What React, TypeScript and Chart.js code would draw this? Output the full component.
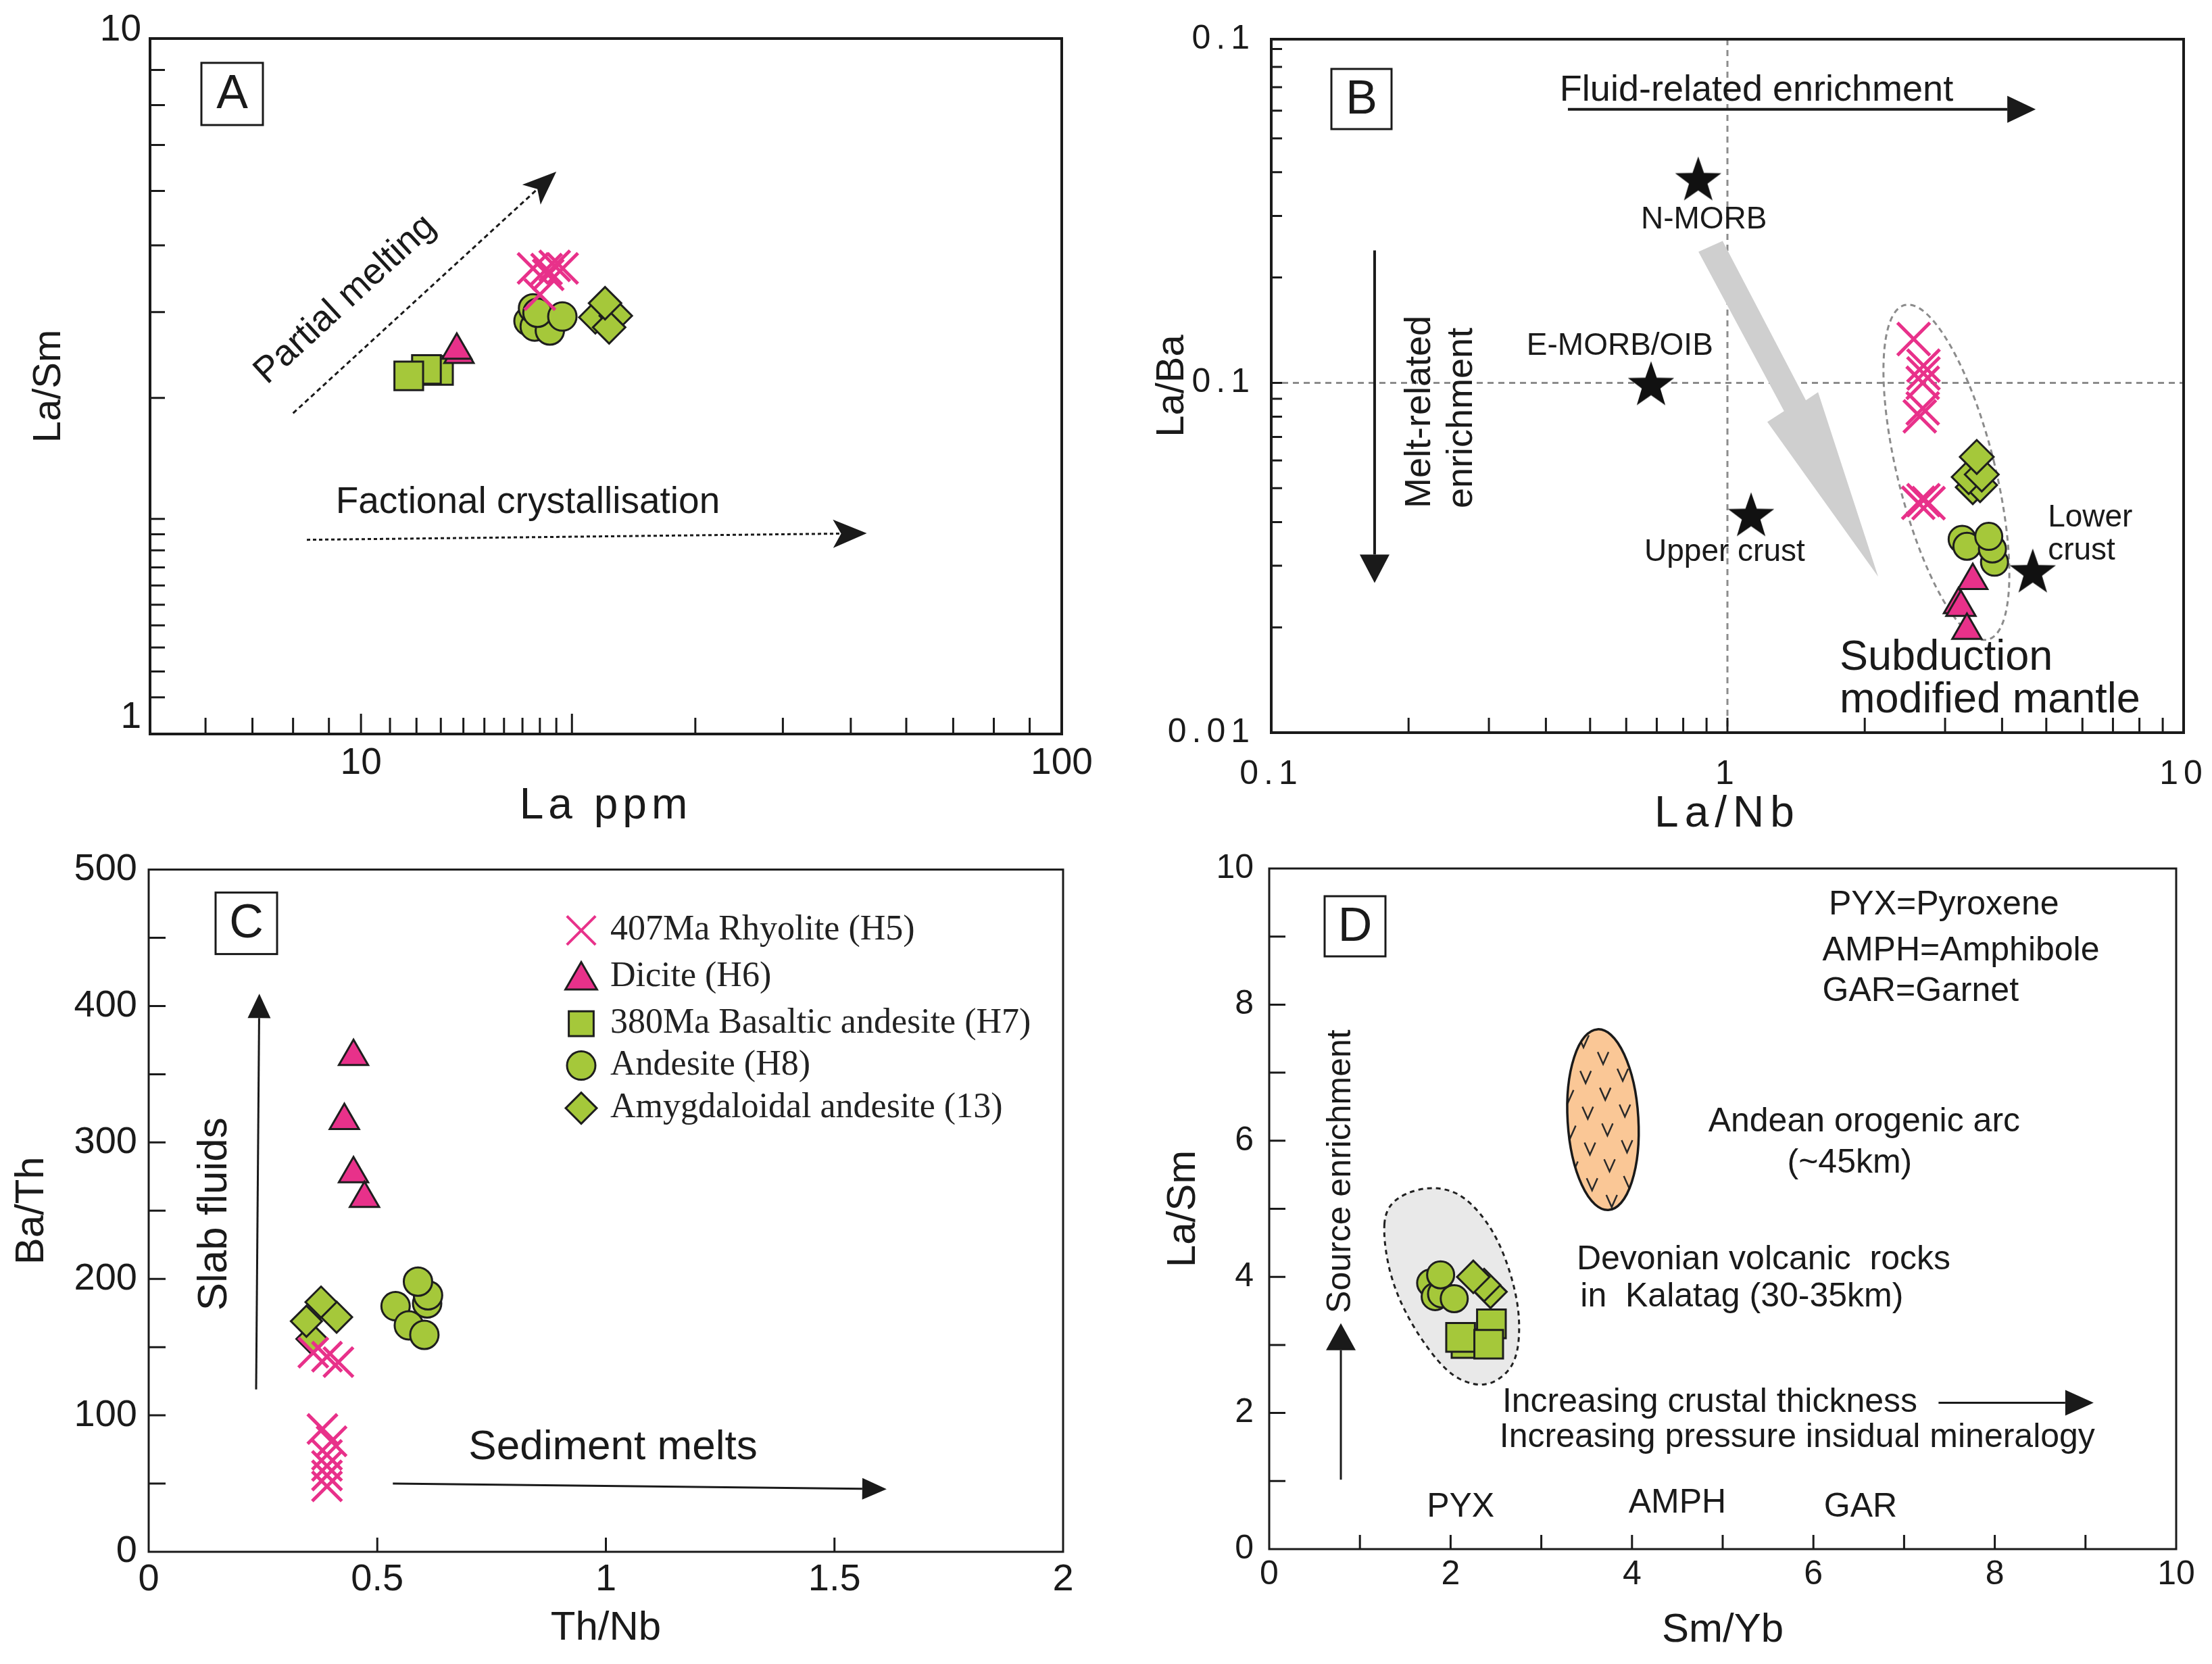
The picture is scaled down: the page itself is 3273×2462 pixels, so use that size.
import React, { useEffect, useRef } from 'react';
import { Chart, registerables } from 'chart.js';

Chart.register(...registerables);

type Pt = [number, number];

// ---------------- Panel A : La ppm vs La/Sm ----------------
const A_RHYOLITE: Pt[] = [[17.6, 4.63], [18.4, 4.62], [19.4, 4.63], [18.5, 4.53], [18.9, 4.67], [18.0, 4.24]];
const A_DICITE: Pt[] = [[13.8, 3.47], [13.7, 3.52]];
const A_BASALTIC: Pt[] = [[12.9, 3.29], [12.4, 3.3], [11.7, 3.23]];
const A_ANDESITE: Pt[] = [[17.34, 3.88], [17.7, 3.81], [18.6, 3.76], [17.6, 4.05], [17.86, 3.99], [19.38, 3.94]];
const A_AMYGDALOIDAL: Pt[] = [[21.6, 3.93], [23.1, 3.95], [22.6, 3.8], [22.3, 4.12]];

// ---------------- Panel B : La/Nb vs La/Ba ----------------
const B_RHYOLITE: Pt[] = [[2.56, 0.1334], [2.69, 0.112], [2.69, 0.1064], [2.68, 0.1], [2.68, 0.0845], [2.64, 0.0802], [2.69, 0.0462], [2.76, 0.0453], [2.62, 0.0454]];
const B_DICITE: Pt[] = [[3.45, 0.0272], [3.21, 0.0232], [3.25, 0.0228], [3.35, 0.0196]];
const B_ANDESITE: Pt[] = [[3.27, 0.0357], [3.35, 0.0341], [3.85, 0.0307], [3.81, 0.0335], [3.74, 0.0364]];
const B_AMYGDALOIDAL: Pt[] = [[3.45, 0.0503], [3.58, 0.051], [3.38, 0.0538], [3.61, 0.0547], [3.52, 0.0614]];
const B_REFERENCE: Pt[] = [[0.863, 0.383], [0.68, 0.0995], [1.127, 0.042], [4.67, 0.029]];
const B_REFERENCE_NAMES = ['N-MORB', 'E-MORB/OIB', 'Upper crust', 'Lower crust'];
const B_TREND_ARROW: Pt[] = [[0.864, 0.237], [0.976, 0.2545], [1.486, 0.0891], [1.58, 0.094], [2.14, 0.0279], [1.223, 0.0773], [1.331, 0.083]];

// ---------------- Panel C : Th/Nb vs Ba/Th ----------------
const C_RHYOLITE: Pt[] = [[0.36, 146], [0.39, 143], [0.415, 139], [0.38, 90], [0.4, 81], [0.39, 71], [0.39, 63], [0.39, 56], [0.39, 48]];
const C_DICITE: Pt[] = [[0.448, 363], [0.428, 316], [0.448, 277], [0.472, 259]];
const C_ANDESITE: Pt[] = [[0.54, 180], [0.569, 166], [0.603, 159], [0.609, 182], [0.611, 188], [0.589, 198]];
const C_AMYGDALOIDAL: Pt[] = [[0.357, 156], [0.345, 169], [0.411, 172], [0.377, 183]];

// ---------------- Panel D : Sm/Yb vs La/Sm ----------------
const D_BASALTIC: Pt[] = [[2.17, 3.02], [2.11, 3.11], [2.45, 3.31], [2.42, 3.01]];
const D_ANDESITE: Pt[] = [[1.78, 3.91], [1.83, 3.71], [1.9, 3.75], [2.04, 3.68], [1.89, 4.03]];
const D_AMYGDALOIDAL: Pt[] = [[2.44, 3.78], [2.37, 3.88], [2.25, 4.0]];
const D_KALATAG_FIELD: Pt[] = [[1.28, 5.0], [1.5, 5.24], [1.83, 5.33], [2.15, 5.2], [2.47, 4.7], [2.67, 4.05], [2.77, 3.39], [2.73, 2.75], [2.5, 2.44], [2.25, 2.4], [1.95, 2.6], [1.6, 3.22], [1.36, 3.88], [1.26, 4.54]];
const D_ANDEAN_FIELD = { x: 3.68, y: 6.31, rx: 0.39, ry: 1.33 };

// ---------------- Tick values and labels ----------------
const A_X_TICKS = [6, 7, 8, 9, 10, 11, 12, 13, 14, 15, 16, 17, 18, 19, 20, 30, 40, 50, 60, 70, 80, 90, 100];
const A_X_LABELS: [number, string][] = [[10, '10'], [100, '100']];
const A_Y_TICKS = [1, 1.1, 1.2, 1.3, 1.4, 1.5, 1.6, 1.7, 1.8, 1.9, 2, 3, 4, 5, 6, 7, 8, 9, 10];
const A_Y_LABELS: [number, string][] = [[1, '1'], [10, '10']];
const B_X_TICKS = [0.1, 0.2, 0.3, 0.4, 0.5, 0.6, 0.7, 0.8, 0.9, 1, 2, 3, 4, 5, 6, 7, 8, 9, 10];
const B_X_LABELS: [number, string][] = [[0.1, '0.1'], [1, '1'], [10, '10']];
const B_Y_TICKS = [0.01, 0.02, 0.03, 0.04, 0.05, 0.06, 0.07, 0.08, 0.09, 0.1, 0.2, 0.3, 0.4, 0.5, 0.6, 0.7, 0.8, 0.9, 0.96];
const B_Y_LABELS: [number, string][] = [[0.01, '0.01'], [0.1, '0.1'], [0.96, '0.1']];
const C_X_TICKS = [0, 0.5, 1, 1.5, 2];
const C_X_LABELS: [number, string][] = [[0, '0'], [0.5, '0.5'], [1, '1'], [1.5, '1.5'], [2, '2']];
const C_Y_TICKS = [0, 50, 100, 150, 200, 250, 300, 350, 400, 450, 500];
const C_Y_LABELS: [number, string][] = [[0, '0'], [100, '100'], [200, '200'], [300, '300'], [400, '400'], [500, '500']];
const D_X_TICKS = [0, 1, 2, 3, 4, 5, 6, 7, 8, 9, 10];
const D_X_LABELS: [number, string][] = [[0, '0'], [2, '2'], [4, '4'], [6, '6'], [8, '8'], [10, '10']];
const D_Y_TICKS = [0, 1, 2, 3, 4, 5, 6, 7, 8, 9, 10];
const D_Y_LABELS: [number, string][] = [[0, '0'], [2, '2'], [4, '4'], [6, '6'], [8, '8'], [10, '10']];

// ---------------- Styles ----------------
const PINK = '#E8318A';
const GREEN = '#A5C83A';
const EDGE = '#1e1e1e';
const INK = '#1a1a1a';
const SANS = "'Liberation Sans', Arial, Helvetica, sans-serif";
const SERIF = "'Liberation Serif', 'Times New Roman', serif";

const SERIES_STYLE: Record<string, any> = {
  rhyolite: { name: '407Ma Rhyolite (H5)', pointStyle: 'crossRot', fill: PINK, stroke: PINK, lw: 5 },
  dicite: { name: 'Dicite (H6)', pointStyle: 'triangle', fill: PINK, stroke: EDGE, lw: 3 },
  basaltic: { name: '380Ma Basaltic andesite (H7)', pointStyle: 'rect', fill: GREEN, stroke: EDGE, lw: 3 },
  andesite: { name: 'Andesite (H8)', pointStyle: 'circle', fill: GREEN, stroke: EDGE, lw: 3 },
  amygdaloidal: { name: 'Amygdaloidal andesite (13)', pointStyle: 'rectRot', fill: GREEN, stroke: EDGE, lw: 3 },
};

function series(key: string, pts: Pt[], r: number) {
  const s = SERIES_STYLE[key];
  return {
    label: s.name,
    data: pts.map(([x, y]) => ({ x, y })),
    showLine: false,
    pointStyle: s.pointStyle,
    pointRadius: r,
    pointHoverRadius: r,
    pointBackgroundColor: s.fill,
    pointBorderColor: s.stroke,
    pointBorderWidth: s.lw,
    pointHoverBorderWidth: s.lw,
    backgroundColor: s.fill,
    borderColor: s.stroke,
  };
}

function starImage(R: number) {
  const c = document.createElement('canvas');
  const s = Math.ceil(R * 2 + 4);
  c.width = s;
  c.height = s;
  const g = c.getContext('2d')!;
  g.fillStyle = '#111';
  g.beginPath();
  for (let i = 0; i < 10; i++) {
    const r = i % 2 === 0 ? R : R * 0.4;
    const a = -Math.PI / 2 + (i * Math.PI) / 5;
    const px = s / 2 + r * Math.cos(a);
    const py = s / 2 + r * Math.sin(a) + R * 0.08;
    if (i === 0) g.moveTo(px, py);
    else g.lineTo(px, py);
  }
  g.closePath();
  g.fill();
  return c;
}

// ---------------- Drawing helpers ----------------
function txt(ctx: CanvasRenderingContext2D, s: string, x: number, y: number, o: any = {}) {
  ctx.save();
  ctx.letterSpacing = '0px';
  ctx.translate(x, y);
  if (o.rot) ctx.rotate(o.rot);
  ctx.font = `${o.size || 50}px ${o.family || SANS}`;
  ctx.fillStyle = o.color || INK;
  ctx.textAlign = o.align || 'center';
  ctx.textBaseline = o.baseline || 'middle';
  ctx.fillText(s, 0, 0);
  ctx.restore();
}

function arrow(ctx: CanvasRenderingContext2D, x1: number, y1: number, x2: number, y2: number, o: any) {
  const a = Math.atan2(y2 - y1, x2 - x1);
  const ca = Math.cos(a), sa = Math.sin(a);
  const bx = x2 - o.head * ca, by = y2 - o.head * sa;
  const notch = o.notch || 0;
  ctx.save();
  ctx.strokeStyle = o.color || INK;
  ctx.lineWidth = o.w || 3;
  ctx.setLineDash(o.dash || []);
  ctx.beginPath();
  ctx.moveTo(x1, y1);
  ctx.lineTo(bx + notch * ca, by + notch * sa);
  ctx.stroke();
  ctx.setLineDash([]);
  ctx.fillStyle = o.color || INK;
  ctx.beginPath();
  ctx.moveTo(x2, y2);
  ctx.lineTo(bx + (o.headW / 2) * sa, by - (o.headW / 2) * ca);
  ctx.lineTo(bx + notch * ca, by + notch * sa);
  ctx.lineTo(bx - (o.headW / 2) * sa, by + (o.headW / 2) * ca);
  ctx.closePath();
  ctx.fill();
  ctx.restore();
}

function drawMarker(ctx: CanvasRenderingContext2D, style: string, x: number, y: number, r: number, fill: string, stroke: string, lw: number) {
  ctx.save();
  ctx.fillStyle = fill;
  ctx.strokeStyle = stroke;
  ctx.lineWidth = lw;
  ctx.beginPath();
  if (style === 'circle') {
    ctx.arc(x, y, r, 0, Math.PI * 2);
  } else if (style === 'triangle') {
    for (let i = 0; i < 3; i++) {
      const a = (i * 2 * Math.PI) / 3;
      const px = x + Math.sin(a) * r, py = y - Math.cos(a) * r;
      if (i === 0) ctx.moveTo(px, py);
      else ctx.lineTo(px, py);
    }
    ctx.closePath();
  } else if (style === 'rect') {
    const s = Math.SQRT1_2 * r;
    ctx.rect(x - s, y - s, 2 * s, 2 * s);
  } else if (style === 'rectRot') {
    ctx.moveTo(x - r, y);
    ctx.lineTo(x, y - r);
    ctx.lineTo(x + r, y);
    ctx.lineTo(x, y + r);
    ctx.closePath();
  } else if (style === 'crossRot') {
    const d = Math.SQRT1_2 * r;
    ctx.moveTo(x - d, y - d);
    ctx.lineTo(x + d, y + d);
    ctx.moveTo(x + d, y - d);
    ctx.lineTo(x - d, y + d);
    ctx.stroke();
    ctx.restore();
    return;
  }
  ctx.fill();
  ctx.stroke();
  ctx.restore();
}

function smoothClosed(ctx: CanvasRenderingContext2D, pts: number[][]) {
  const n = pts.length;
  const mid = (a: number[], b: number[]) => [(a[0] + b[0]) / 2, (a[1] + b[1]) / 2];
  const m0 = mid(pts[n - 1], pts[0]);
  ctx.beginPath();
  ctx.moveTo(m0[0], m0[1]);
  for (let i = 0; i < n; i++) {
    const p = pts[i];
    const m = mid(p, pts[(i + 1) % n]);
    ctx.quadraticCurveTo(p[0], p[1], m[0], m[1]);
  }
  ctx.closePath();
}

// ---------------- Panel definitions ----------------
interface AxisCfg {
  type: 'linear' | 'logarithmic';
  min: number;
  max: number;
  ticks: number[];
  labels: [number, string][];
  tickLen: number;
  longTicks?: number[];
  longLen?: number;
  noTick?: number[];
  title: string;
  titleSize?: number;
  titleSpacing?: number;
  labelSpacing?: number;
  labelOffset?: number;
}

interface DrawCtx {
  ctx: CanvasRenderingContext2D;
  X: (v: number) => number;
  Y: (v: number) => number;
  area: { left: number; top: number; right: number; bottom: number };
}

interface PanelCfg {
  id: string;
  letter: string;
  area: [number, number, number, number];
  yTitleX: number;
  xTitleY: number;
  yLabelGap: number;
  xLabelY: number;
  tickSize: number;
  titleSize: number;
  frameWidth: number;
  letterBox: [number, number, number, number];
  x: AxisCfg;
  y: AxisCfg;
  datasets: () => any[];
  back?: (d: DrawCtx) => void;
  front?: (d: DrawCtx) => void;
}

const PANELS: PanelCfg[] = [
  {
    id: 'A',
    letter: 'A',
    area: [222, 57, 1571, 1086],
    yTitleX: 73,
    xTitleY: 1193,
    yLabelGap: 13,
    xLabelY: 1130,
    tickSize: 55,
    titleSize: 58,
    frameWidth: 4,
    letterBox: [76, 36, 91, 92],
    x: { type: 'logarithmic', min: 5, max: 100, ticks: A_X_TICKS, labels: A_X_LABELS, tickLen: 24, longTicks: [10, 20], longLen: 30, title: 'La ppm', titleSize: 64, titleSpacing: 7 },
    y: { type: 'logarithmic', min: 0.973, max: 10, ticks: A_Y_TICKS, labels: A_Y_LABELS, tickLen: 22, noTick: [1], title: 'La/Sm', labelOffset: -12 },
    datasets: () => [
      series('rhyolite', A_RHYOLITE, 32),
      series('dicite', A_DICITE, 25),
      series('basaltic', A_BASALTIC, 30),
      series('andesite', A_ANDESITE, 21),
      series('amygdaloidal', A_AMYGDALOIDAL, 24),
    ],
    front: ({ ctx, X, Y }) => {
      const x1 = X(8.0), y1 = Y(2.85), x2 = X(19.0), y2 = Y(6.4);
      arrow(ctx, x1, y1, x2, y2, { w: 3, color: INK, dash: [7, 5], head: 50, headW: 40, notch: 12 });
      txt(ctx, 'Partial melting', X(9.5), Y(4.17), { size: 54, rot: Math.atan2(y2 - y1, x2 - x1) });
      txt(ctx, 'Factional crystallisation', X(17.3), Y(2.11), { size: 55 });
      arrow(ctx, X(8.37), Y(1.865), X(52.7), Y(1.906), { w: 3, color: INK, dash: [5, 4], head: 50, headW: 42, notch: 12 });
    },
  },
  {
    id: 'B',
    letter: 'B',
    area: [1881, 54, 3231, 1084],
    yTitleX: 1735,
    xTitleY: 1205,
    yLabelGap: 24,
    xLabelY: 1146,
    tickSize: 50,
    titleSize: 58,
    frameWidth: 4,
    letterBox: [89, 44, 89, 89],
    x: { type: 'logarithmic', min: 0.1, max: 10, ticks: B_X_TICKS, labels: B_X_LABELS, tickLen: 22, title: 'La/Nb', titleSize: 64, titleSpacing: 9, labelSpacing: 8 },
    y: { type: 'logarithmic', min: 0.01, max: 0.96, ticks: B_Y_TICKS, labels: B_Y_LABELS, tickLen: 16, title: 'La/Ba', labelSpacing: 8 },
    datasets: () => [
      {
        label: 'Reference',
        data: B_REFERENCE.map(([x, y]) => ({ x, y })),
        showLine: false,
        pointStyle: starImage(36),
        pointRadius: 36,
        pointHoverRadius: 36,
      },
      series('rhyolite', B_RHYOLITE, 34),
      series('dicite', B_DICITE, 25),
      series('andesite', B_ANDESITE, 20),
      series('amygdaloidal', B_AMYGDALOIDAL, 25),
    ],
    back: ({ ctx, X, Y, area }) => {
      ctx.save();
      ctx.strokeStyle = '#8c8c8c';
      ctx.lineWidth = 3;
      ctx.setLineDash([9, 7]);
      ctx.beginPath();
      ctx.moveTo(X(1), area.top);
      ctx.lineTo(X(1), area.bottom);
      ctx.moveTo(area.left, Y(0.1));
      ctx.lineTo(area.right, Y(0.1));
      ctx.stroke();
      ctx.restore();
      // broad grey trend arrow
      ctx.save();
      ctx.fillStyle = '#cfcfcf';
      ctx.beginPath();
      B_TREND_ARROW.forEach(([x, y], i) => (i === 0 ? ctx.moveTo(X(x), Y(y)) : ctx.lineTo(X(x), Y(y))));
      ctx.closePath();
      ctx.fill();
      ctx.restore();
      // dashed field around samples
      ctx.save();
      ctx.setLineDash([8, 6]);
      ctx.strokeStyle = '#8c8c8c';
      ctx.lineWidth = 3;
      ctx.beginPath();
      ctx.ellipse(X(3.02), Y(0.0555), 72, 255, -0.244, 0, Math.PI * 2);
      ctx.stroke();
      ctx.restore();
    },
    front: ({ ctx, X, Y }) => {
      txt(ctx, 'Fluid-related enrichment', X(1.158), Y(0.683), { size: 54 });
      arrow(ctx, X(0.447), Y(0.605), X(4.74), Y(0.605), { w: 4, head: 42, headW: 40 });
      arrow(ctx, X(0.1685), Y(0.239), X(0.1685), Y(0.0268), { w: 4, head: 42, headW: 44 });
      txt(ctx, 'Melt-related', X(0.212), Y(0.0438), { size: 54, rot: -Math.PI / 2, align: 'left' });
      txt(ctx, 'enrichment', X(0.262), Y(0.0438), { size: 54, rot: -Math.PI / 2, align: 'left' });
      txt(ctx, B_REFERENCE_NAMES[0], X(0.888), Y(0.292), { size: 46 });
      txt(ctx, B_REFERENCE_NAMES[1], X(0.581), Y(0.127), { size: 46 });
      txt(ctx, B_REFERENCE_NAMES[2], X(0.986), Y(0.0327), { size: 46 });
      const lower = B_REFERENCE_NAMES[3].split(' ');
      txt(ctx, lower[0], X(5.04), Y(0.0411), { size: 46, align: 'left' });
      txt(ctx, lower[1], X(5.04), Y(0.033), { size: 46, align: 'left' });
      txt(ctx, 'Subduction', X(1.762), Y(0.01634), { size: 63, align: 'left' });
      txt(ctx, 'modified mantle', X(1.762), Y(0.01237), { size: 63, align: 'left' });
    },
  },
  {
    id: 'C',
    letter: 'C',
    area: [220, 1286, 1573, 2296],
    yTitleX: 47,
    xTitleY: 2409,
    yLabelGap: 17,
    xLabelY: 2338,
    tickSize: 56,
    titleSize: 60,
    frameWidth: 3,
    letterBox: [99, 34, 91, 91],
    x: { type: 'linear', min: 0, max: 2, ticks: C_X_TICKS, labels: C_X_LABELS, tickLen: 21, title: 'Th/Nb' },
    y: { type: 'linear', min: 0, max: 500, ticks: C_Y_TICKS, labels: C_Y_LABELS, tickLen: 25, title: 'Ba/Th' },
    datasets: () => [
      series('rhyolite', C_RHYOLITE, 31),
      series('dicite', C_DICITE, 25),
      series('andesite', C_ANDESITE, 21),
      series('amygdaloidal', C_AMYGDALOIDAL, 23),
    ],
    front: ({ ctx, X, Y, area }) => {
      arrow(ctx, X(0.235), Y(119), X(0.242), Y(409), { w: 3, head: 36, headW: 34 });
      txt(ctx, 'Slab fluids', X(0.1449), Y(247.5), { size: 62, rot: -Math.PI / 2 });
      txt(ctx, 'Sediment melts', X(1.0155), Y(76.2), { size: 62 });
      arrow(ctx, X(0.534), Y(50), X(1.614), Y(46), { w: 3, head: 36, headW: 32 });
      // legend
      const rows: [string, number][] = [['rhyolite', 30], ['dicite', 27], ['basaltic', 26], ['andesite', 21], ['amygdaloidal', 23]];
      const rowY = [90, 159, 228, 290, 353];
      rows.forEach(([key, r], i) => {
        const s = SERIES_STYLE[key];
        const cy = area.top + rowY[i];
        const cx = area.left + 640;
        drawMarker(ctx, s.pointStyle, cx, key === 'dicite' ? cy + 5 : cy, r, s.fill, s.stroke, key === 'rhyolite' ? 4 : 3);
        txt(ctx, s.name, area.left + 683, cy, { size: 52, family: SERIF, align: 'left', color: '#222' });
      });
    },
  },
  {
    id: 'D',
    letter: 'D',
    area: [1878, 1282, 3220, 2292],
    yTitleX: 1751,
    xTitleY: 2412,
    yLabelGap: 23,
    xLabelY: 2330,
    tickSize: 50,
    titleSize: 60,
    frameWidth: 3,
    letterBox: [82, 41, 90, 89],
    x: { type: 'linear', min: 0, max: 10, ticks: D_X_TICKS, labels: D_X_LABELS, tickLen: 21, title: 'Sm/Yb' },
    y: { type: 'linear', min: 0, max: 10, ticks: D_Y_TICKS, labels: D_Y_LABELS, tickLen: 24, title: 'La/Sm' },
    datasets: () => [
      series('basaltic', D_BASALTIC, 30),
      series('andesite', D_ANDESITE, 20),
      series('amygdaloidal', D_AMYGDALOIDAL, 24),
    ],
    back: ({ ctx, X, Y }) => {
      // Devonian (Kalatag) field
      ctx.save();
      smoothClosed(ctx, D_KALATAG_FIELD.map(([x, y]) => [X(x), Y(y)]));
      ctx.fillStyle = '#e9e9e9';
      ctx.fill();
      ctx.setLineDash([7, 6]);
      ctx.lineWidth = 3;
      ctx.strokeStyle = '#222';
      ctx.stroke();
      ctx.restore();
      // Andean orogenic arc field
      const f = D_ANDEAN_FIELD;
      const cx = X(f.x), cy = Y(f.y);
      const rx = X(f.x + f.rx) - cx, ry = cy - Y(f.y + f.ry);
      const rot = -0.06;
      ctx.save();
      ctx.beginPath();
      ctx.ellipse(cx, cy, rx, ry, rot, 0, Math.PI * 2);
      ctx.fillStyle = '#FAC796';
      ctx.fill();
      ctx.save();
      ctx.clip();
      ctx.strokeStyle = '#2a2a2a';
      ctx.lineWidth = 2.5;
      // staggered "v" pattern
      let row = 0;
      for (let dy = -ry - 10; dy < ry + 10; dy += 26.5) {
        const off = row % 2 === 0 ? 8 : 35.5;
        for (let dx = -rx - 60 + off; dx < rx + 30; dx += 55) {
          const vx = cx + dx * Math.cos(rot) - dy * Math.sin(rot);
          const vy = cy + dx * Math.sin(rot) + dy * Math.cos(rot);
          ctx.beginPath();
          ctx.moveTo(vx - 8, vy - 9);
          ctx.lineTo(vx, vy + 9);
          ctx.lineTo(vx + 8, vy - 9);
          ctx.stroke();
        }
        row++;
      }
      ctx.restore();
      ctx.beginPath();
      ctx.ellipse(cx, cy, rx, ry, rot, 0, Math.PI * 2);
      ctx.lineWidth = 3.5;
      ctx.strokeStyle = '#1a1a1a';
      ctx.stroke();
      ctx.restore();
    },
    front: ({ ctx, X, Y }) => {
      txt(ctx, 'PYX=Pyroxene', X(6.17), Y(9.46), { size: 50, align: 'left' });
      txt(ctx, 'AMPH=Amphibole', X(6.1), Y(8.79), { size: 50, align: 'left' });
      txt(ctx, 'GAR=Garnet', X(6.1), Y(8.19), { size: 50, align: 'left' });
      txt(ctx, 'Andean orogenic arc', X(6.56), Y(6.27), { size: 50 });
      txt(ctx, '(~45km)', X(6.4), Y(5.67), { size: 50 });
      txt(ctx, 'Devonian volcanic  rocks', X(3.39), Y(4.25), { size: 50, align: 'left' });
      txt(ctx, 'in  Kalatag (30-35km)', X(3.43), Y(3.7), { size: 50, align: 'left' });
      txt(ctx, 'Increasing crustal thickness', X(2.57), Y(2.15), { size: 50, align: 'left' });
      arrow(ctx, X(7.38), Y(2.15), X(9.09), Y(2.15), { w: 3, head: 42, headW: 38 });
      txt(ctx, 'Increasing pressure insidual mineralogy', X(2.54), Y(1.64), { size: 50, align: 'left' });
      txt(ctx, 'PYX', X(2.11), Y(0.61), { size: 50 });
      txt(ctx, 'AMPH', X(4.5), Y(0.67), { size: 50 });
      txt(ctx, 'GAR', X(6.52), Y(0.61), { size: 50 });
      txt(ctx, 'Source enrichment', X(0.79), Y(5.55), { size: 50, rot: -Math.PI / 2 });
      arrow(ctx, X(0.79), Y(1.02), X(0.79), Y(3.32), { w: 3, head: 40, headW: 44 });
    },
  },
];

// ---------------- Layout ----------------
const PAD_TOP = 50;
const PAD_RIGHT = 60;

function computeLayout(p: PanelCfg) {
  const [l, t, r, b] = p.area;
  const yHalf = 0.6 * (p.y.titleSize || p.titleSize);
  const xHalf = 0.6 * (p.x.titleSize || p.titleSize);
  const left = Math.floor(p.yTitleX - yHalf);
  const top = t - PAD_TOP;
  const right = r + PAD_RIGHT;
  const bottom = Math.ceil(p.xTitleY + xHalf);
  return {
    left,
    top,
    width: right - left,
    height: bottom - top,
    yWidth: l - left,
    xHeight: bottom - b,
    yTitlePad: p.yTitleX - left - yHalf,
    xTitlePad: bottom - p.xTitleY - xHalf,
    xLabelPad: p.xLabelY - b - 0.6 * p.tickSize,
  };
}

function wrapSpacing(scale: any, fn: string, sp?: number) {
  if (!sp || scale['__w_' + fn]) return;
  const orig = scale[fn];
  scale[fn] = function (...args: any[]) {
    const c = this.ctx;
    c.save();
    c.letterSpacing = sp + 'px';
    const res = orig.apply(this, args);
    c.restore();
    return res;
  };
  scale['__w_' + fn] = true;
}

function tickLen(ax: AxisCfg, v: number) {
  const eq = (a: number) => Math.abs(a - v) < 1e-9;
  if (ax.noTick && ax.noTick.some(eq)) return 0;
  if (ax.longTicks && ax.longTicks.some(eq)) return ax.longLen || ax.tickLen;
  return ax.tickLen;
}

function axisOptions(p: PanelCfg, ax: AxisCfg, horizontal: boolean, L: ReturnType<typeof computeLayout>) {
  const labelFor = (i: number) => {
    const v = ax.ticks[i];
    const f = ax.labels.find(([lv]) => Math.abs(lv - v) < 1e-9);
    return f ? f[1] : '';
  };
  return {
    type: ax.type,
    position: horizontal ? 'bottom' : 'left',
    min: ax.min,
    max: ax.max,
    bounds: 'data',
    grid: { display: false, drawTicks: false },
    border: { display: false },
    afterBuildTicks: (s: any) => {
      s.ticks = ax.ticks.map((v) => ({ value: v }));
    },
    afterFit: (s: any) => {
      if (horizontal) s.height = L.xHeight;
      else s.width = L.yWidth;
    },
    ticks: {
      autoSkip: false,
      maxRotation: 0,
      minRotation: 0,
      padding: horizontal ? L.xLabelPad : p.yLabelGap,
      labelOffset: ax.labelOffset || 0,
      color: INK,
      font: { family: SANS, size: p.tickSize, lineHeight: 1.2 },
      callback: (_v: any, i: number) => labelFor(i),
    },
    title: {
      display: true,
      text: ax.title,
      color: INK,
      font: { family: SANS, size: ax.titleSize || p.titleSize, lineHeight: 1.2 },
      padding: horizontal ? { top: 0, bottom: L.xTitlePad } : { top: L.yTitlePad, bottom: 0 },
    },
  };
}

function buildConfig(p: PanelCfg, L: ReturnType<typeof computeLayout>): any {
  const dc = (chart: any): DrawCtx => ({
    ctx: chart.ctx,
    X: (v: number) => chart.scales.x.getPixelForValue(v),
    Y: (v: number) => chart.scales.y.getPixelForValue(v),
    area: chart.chartArea,
  });
  const plugin = {
    id: 'panel' + p.id,
    beforeDraw(chart: any) {
      wrapSpacing(chart.scales.x, 'drawTitle', p.x.titleSpacing);
      wrapSpacing(chart.scales.x, 'drawLabels', p.x.labelSpacing);
      wrapSpacing(chart.scales.y, 'drawTitle', p.y.titleSpacing);
      wrapSpacing(chart.scales.y, 'drawLabels', p.y.labelSpacing);
    },
    beforeDatasetsDraw(chart: any) {
      if (p.back) p.back(dc(chart));
    },
    afterDraw(chart: any) {
      const ctx: CanvasRenderingContext2D = chart.ctx;
      const { left, right, top, bottom } = chart.chartArea;
      const sx = chart.scales.x, sy = chart.scales.y;
      ctx.save();
      ctx.letterSpacing = '0px';
      ctx.strokeStyle = INK;
      ctx.lineWidth = 3;
      ctx.setLineDash([]);
      ctx.beginPath();
      p.x.ticks.forEach((v) => {
        const len = tickLen(p.x, v);
        const px = sx.getPixelForValue(v);
        if (!len || px <= left + 2 || px >= right - 2) return;
        ctx.moveTo(px, bottom);
        ctx.lineTo(px, bottom - len);
      });
      p.y.ticks.forEach((v) => {
        const len = tickLen(p.y, v);
        const py = sy.getPixelForValue(v);
        if (!len || py <= top + 2 || py >= bottom - 2) return;
        ctx.moveTo(left, py);
        ctx.lineTo(left + len, py);
      });
      ctx.stroke();
      ctx.lineWidth = p.frameWidth;
      ctx.strokeRect(left, top, right - left, bottom - top);
      // panel letter
      const [dx, dy, w, h] = p.letterBox;
      ctx.fillStyle = '#fff';
      ctx.fillRect(left + dx, top + dy, w, h);
      ctx.lineWidth = 3;
      ctx.strokeRect(left + dx, top + dy, w, h);
      ctx.restore();
      txt(ctx, p.letter, left + dx + w / 2, top + dy + h / 2 + 2, { size: 70 });
      if (p.front) p.front(dc(chart));
    },
  };
  return {
    type: 'scatter',
    data: { datasets: p.datasets() },
    options: {
      animation: false,
      responsive: false,
      maintainAspectRatio: false,
      devicePixelRatio: 1,
      events: [],
      layout: { padding: { left: 0, top: PAD_TOP, right: PAD_RIGHT, bottom: 0 } },
      plugins: { legend: { display: false }, tooltip: { enabled: false } },
      scales: {
        x: axisOptions(p, p.x, true, L),
        y: axisOptions(p, p.y, false, L),
      },
    },
    plugins: [plugin],
  };
}

function Panel({ cfg }: { cfg: PanelCfg }) {
  const ref = useRef<HTMLCanvasElement>(null);
  const L = computeLayout(cfg);
  useEffect(() => {
    if (!ref.current) return;
    const chart = new Chart(ref.current, buildConfig(cfg, L));
    return () => chart.destroy();
  }, []);
  return (
    <canvas
      ref={ref}
      width={L.width}
      height={L.height}
      style={{ position: 'absolute', left: L.left, top: L.top, width: L.width, height: L.height }}
    />
  );
}

export default function App() {
  return (
    <div style={{ position: 'absolute', left: 0, top: 0, width: 3273, height: 2462, background: '#ffffff', overflow: 'hidden' }}>
      {PANELS.map((p) => (
        <Panel key={p.id} cfg={p} />
      ))}
    </div>
  );
}
